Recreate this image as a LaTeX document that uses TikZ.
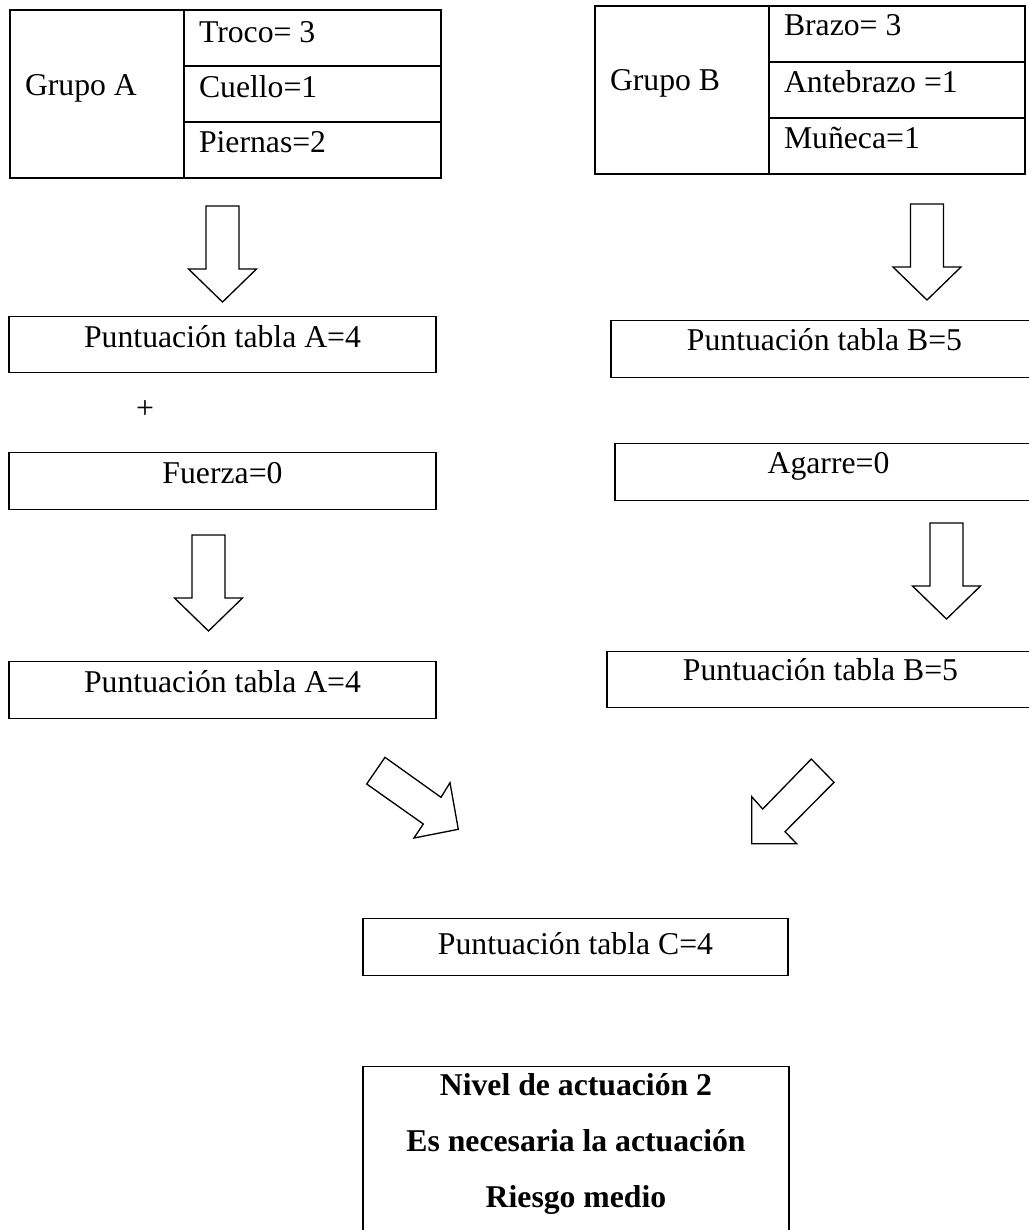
\documentclass[tikz,border=0pt]{standalone}
\usepackage{fontspec}
\setmainfont{Liberation Serif}
\usetikzlibrary{positioning}
\newdimen\px
\px=0.3784pt

\begin{document}
\begin{tikzpicture}[
  x=\px, y=-\px,
  font=\fontsize{12}{14.4}\selectfont,
  cellbox/.style={draw, line width=0.5pt, anchor=north west, outer sep=0pt, inner xsep=15\px, inner ysep=0pt, align=flush left},
  scorebox/.style={draw, line width=0.5pt, anchor=north, inner sep=0pt, minimum width=427\px, text height=31\px, text depth=25\px},
  resultbox/.style={draw, line width=0.5pt, anchor=north, inner sep=0pt, text width=426\px, align=flush center, font=\fontsize{12}{21.2}\selectfont\bfseries},
  blockarrow/.style={draw, line width=0.5pt, line join=miter},
]
\useasboundingbox (0,0) rectangle (1029,1230);

% Grupo A
\node[cellbox, text width=144\px, text height=85\px, text depth=83\px] (grupoA) at (10,10) {Grupo A};
\node[cellbox, text width=227\px, text height=32\px, text depth=24\px] (troco) at (grupoA.north east) {Troco= 3};
\node[cellbox, text width=227\px, text height=31\px, text depth=25\px] (cuello) at (troco.south west) {Cuello=1};
\node[cellbox, text width=227\px, text height=30\px, text depth=26\px] (piernas) at (cuello.south west) {Piernas=2};

% Grupo B
\node[cellbox, text width=144\px, text height=84\px, text depth=84\px] (grupoB) at (595,6) {Grupo B};
\node[cellbox, text width=226\px, text height=29\px, text depth=27\px] (brazo) at (grupoB.north east) {Brazo= 3};
\node[cellbox, text width=226\px, text height=30\px, text depth=26\px] (antebrazo) at (brazo.south west) {Antebrazo =1};
\node[cellbox, text width=226\px, text height=30\px, text depth=26\px] (muneca) at (antebrazo.south west) {Muñeca=1};

% puntuaciones
\node[scorebox] (puntA) at (222.5,316) {Puntuación tabla A=4};
\node (plus) at (145,410) {+};
\node[scorebox, text depth=26\px] (fuerza) at (222.5,452) {Fuerza=0};
\node[scorebox, text depth=26\px] (puntAb) at (222.5,661) {Puntuación tabla A=4};
\node[scorebox, text height=30\px, text depth=27\px] (puntB) at (824.5,320) {Puntuación tabla B=5};
\node[scorebox, text height=30\px, text depth=27\px] (agarre) at (828.5,443) {Agarre=0};
\node[scorebox, text height=29\px, text depth=27\px] (puntBb) at (820.5,651) {Puntuación tabla B=5};
\node[scorebox, minimum width=425\px, text height=36\px, text depth=21\px] (puntC) at (575.5,918) {Puntuación tabla C=4};

\node[resultbox, text height=29\px, text depth=160\px] (nivel) at (576,1066)
  {Nivel de actuación 2\\Es necesaria la actuación\\Riesgo medio};

% flechas de bloque
\foreach \cx/\ty in {222.5/206, 927/204, 208.5/535, 946.5/523} {
  \draw[blockarrow] (\cx-16.5,\ty) -- (\cx+16.5,\ty) -- (\cx+16.5,\ty+63) -- (\cx+34,\ty+63)
    -- (\cx,\ty+96) -- (\cx-34,\ty+63) -- (\cx-16.5,\ty+63) -- cycle;
}
\draw[blockarrow] (385,757.3) -- (366.7,784) -- (423.3,824) -- (414,838) -- (458.3,829.3)
  -- (450,782.7) -- (441,797.3) -- cycle;
\draw[blockarrow] (811.3,759) -- (834,782.3) -- (785,831.7) -- (796.7,843.7) -- (751.7,843.7)
  -- (751.7,796.7) -- (762.7,809) -- cycle;
\end{tikzpicture}
\end{document}
